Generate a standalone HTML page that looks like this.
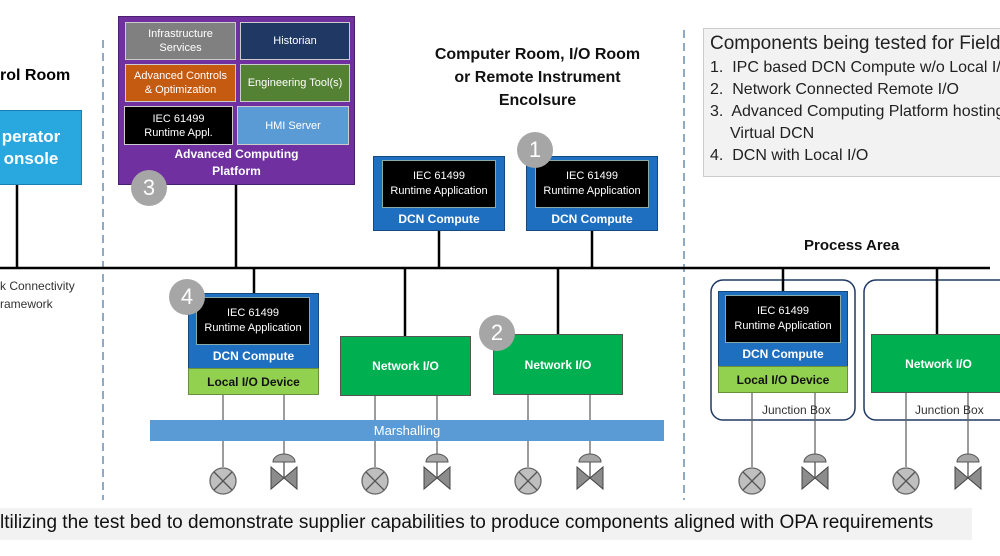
<!DOCTYPE html>
<html><head><meta charset="utf-8"><style>
body{margin:0;width:1000px;height:556px;overflow:hidden;background:#fff;font-family:"Liberation Sans",sans-serif;position:relative}
.a{position:absolute;box-sizing:border-box}
.c{display:flex;align-items:center;justify-content:center;text-align:center}
.b{font-weight:bold}
.cell{color:#fff;font-size:11px;line-height:14px;border:1px solid #ccc}
.num{position:absolute;width:36px;height:36px;border-radius:50%;background:#a6a6a6;color:#fff;font-size:22px;display:flex;align-items:center;justify-content:center}
.blk{background:#000;color:#fff;font-size:11px;line-height:15px;border:1px solid #8aa}
.dcnt{color:#fff;font-weight:bold;font-size:12px}
.gr{background:#00b050;color:#fff;font-weight:bold;font-size:12px;border:1px solid #555}
.lio{background:#92d050;color:#111;font-weight:bold;font-size:12px}
</style></head><body>
<svg class="a" style="left:0;top:0" width="1000" height="556">
<line x1="103" y1="40" x2="103" y2="500" stroke="#6a8fb0" stroke-width="1.5" stroke-dasharray="8,5"/>
<line x1="684" y1="30" x2="684" y2="500" stroke="#6a8fb0" stroke-width="1.5" stroke-dasharray="8,5"/>
<rect x="711" y="280" width="144" height="140" rx="12" fill="none" stroke="#1f3864" stroke-width="1.5"/>
<rect x="864" y="280" width="150" height="140" rx="12" fill="none" stroke="#1f3864" stroke-width="1.5"/>
<g stroke="#000" stroke-width="2.5">
<line x1="0" y1="268" x2="990" y2="268"/>
<line x1="17" y1="185" x2="17" y2="268"/>
<line x1="236" y1="185" x2="236" y2="268"/>
<line x1="439" y1="231" x2="439" y2="268"/>
<line x1="592" y1="231" x2="592" y2="268"/>
<line x1="254" y1="268" x2="254" y2="293"/>
<line x1="405" y1="268" x2="405" y2="336"/>
<line x1="558" y1="268" x2="558" y2="334"/>
<line x1="783" y1="268" x2="783" y2="291"/>
<line x1="937" y1="268" x2="937" y2="334"/>
</g>
<g stroke="#666" stroke-width="1.3">
<line x1="223" y1="395" x2="223" y2="467"/><line x1="284" y1="395" x2="284" y2="462"/>
<line x1="375" y1="395" x2="375" y2="467"/><line x1="437" y1="395" x2="437" y2="462"/>
<line x1="528" y1="395" x2="528" y2="467"/><line x1="590" y1="395" x2="590" y2="462"/>
<line x1="752" y1="393" x2="752" y2="467"/><line x1="815" y1="393" x2="815" y2="462"/>
<line x1="906" y1="393" x2="906" y2="467"/><line x1="968" y1="393" x2="968" y2="462"/>
</g>
<defs>
<g id="ci"><circle r="13" fill="#bfbfbf" stroke="#666" stroke-width="1.3"/><line x1="-9" y1="-9" x2="9" y2="9" stroke="#555" stroke-width="1.3"/><line x1="9" y1="-9" x2="-9" y2="9" stroke="#555" stroke-width="1.3"/></g>
<g id="va"><path d="M-11,7 A11,8 0 0 1 11,7 Z" fill="#a6a6a6" stroke="#555"/><line x1="0" y1="7" x2="0" y2="22" stroke="#555" stroke-width="1.3"/><path d="M-13,12 L13,34 L13,12 L-13,34 Z" fill="#8c8c8c" stroke="#444"/></g>
</defs>
<use href="#ci" x="223" y="481"/><use href="#va" x="284" y="455"/>
<use href="#ci" x="375" y="481"/><use href="#va" x="437" y="455"/>
<use href="#ci" x="528" y="481"/><use href="#va" x="590" y="455"/>
<use href="#ci" x="752" y="481"/><use href="#va" x="815" y="455"/>
<use href="#ci" x="906" y="481"/><use href="#va" x="968" y="455"/>
</svg>

<div class="a b" style="left:0;top:67px;font-size:16px">rol Room</div>
<div class="a c b" style="left:-20px;top:110px;width:102px;height:75px;background:#29a8e0;color:#fff;font-size:17px;line-height:22px;border:1px solid #1a7fb0">perator<br>onsole</div>

<div class="a" style="left:118px;top:16px;width:237px;height:169px;background:#7030a0;border:1px solid #4b1f70"></div>
<div class="a c cell" style="left:125px;top:22px;width:111px;height:38px;background:#808080">Infrastructure<br>Services</div>
<div class="a c cell" style="left:240px;top:22px;width:110px;height:38px;background:#1f3864">Historian</div>
<div class="a c cell" style="left:125px;top:64px;width:111px;height:38px;background:#c55a11">Advanced Controls<br>&amp; Optimization</div>
<div class="a c cell" style="left:240px;top:64px;width:110px;height:38px;background:#548235">Engineering Tool(s)</div>
<div class="a c cell" style="left:124px;top:106px;width:109px;height:39px;background:#000">IEC 61499<br>Runtime Appl.</div>
<div class="a c cell" style="left:237px;top:106px;width:112px;height:39px;background:#5b9bd5">HMI Server</div>
<div class="a c b" style="left:118px;top:146px;width:237px;height:34px;color:#fff;font-size:12px;line-height:17px">Advanced Computing<br>Platform</div>
<div class="num" style="left:131px;top:170px">3</div>

<div class="a c b" style="left:400px;top:43px;width:275px;font-size:16px;line-height:23px;color:#111">Computer Room, I/O Room<br>or Remote Instrument<br>Encolsure</div>

<div class="a" style="left:373px;top:156px;width:132px;height:75px;background:#1f6fc0;border:1px solid #144a80"></div>
<div class="a c blk" style="left:382px;top:160px;width:114px;height:48px">IEC 61499<br>Runtime Application</div>
<div class="a c dcnt" style="left:373px;top:210px;width:132px;height:18px">DCN Compute</div>
<div class="a" style="left:526px;top:156px;width:132px;height:75px;background:#1f6fc0;border:1px solid #144a80"></div>
<div class="a c blk" style="left:535px;top:160px;width:114px;height:48px">IEC 61499<br>Runtime Application</div>
<div class="a c dcnt" style="left:526px;top:210px;width:132px;height:18px">DCN Compute</div>
<div class="num" style="left:517px;top:132px">1</div>

<div class="a b" style="left:804px;top:237px;font-size:15px;color:#111">Process Area</div>

<div class="a" style="left:703px;top:28px;width:310px;height:149px;background:#f2f2f2;border:1px solid #ccc;color:#222;font-size:16px;line-height:22px;padding:1px 0 0 6px;white-space:nowrap">
<div style="font-size:19px;line-height:27px">Components being tested for Field</div>
<div>1.&nbsp; IPC based DCN Compute w/o Local I/O</div>
<div>2.&nbsp; Network Connected Remote I/O</div>
<div>3.&nbsp; Advanced Computing Platform hosting</div>
<div style="padding-left:20px">Virtual DCN</div>
<div>4.&nbsp; DCN with Local I/O</div>
</div>

<div class="a" style="left:0;top:277px;font-size:12px;line-height:18px;color:#333">k Connectivity<br>ramework</div>

<div class="a" style="left:188px;top:293px;width:131px;height:76px;background:#1f6fc0;border:1px solid #144a80"></div>
<div class="a c blk" style="left:196px;top:297px;width:114px;height:48px">IEC 61499<br>Runtime Application</div>
<div class="a c dcnt" style="left:188px;top:346px;width:131px;height:20px">DCN Compute</div>
<div class="a c lio" style="left:188px;top:368px;width:131px;height:27px;border:1px solid #6a8f3a">Local I/O Device</div>
<div class="num" style="left:169px;top:279px">4</div>

<div class="a c gr" style="left:340px;top:336px;width:131px;height:60px">Network I/O</div>
<div class="a c gr" style="left:493px;top:334px;width:130px;height:61px">Network I/O</div>
<div class="num" style="left:479px;top:315px">2</div>

<div class="a c" style="left:150px;top:420px;width:514px;height:21px;background:#5b9bd5;color:#fff;font-size:13px">Marshalling</div>

<div class="a" style="left:718px;top:291px;width:130px;height:76px;background:#1f6fc0;border:1px solid #144a80"></div>
<div class="a c blk" style="left:725px;top:295px;width:116px;height:48px">IEC 61499<br>Runtime Application</div>
<div class="a c dcnt" style="left:718px;top:344px;width:130px;height:20px">DCN Compute</div>
<div class="a c lio" style="left:718px;top:366px;width:130px;height:27px;border:1px solid #6a8f3a">Local I/O Device</div>
<div class="a c gr" style="left:871px;top:334px;width:135px;height:59px">Network I/O</div>
<div class="a" style="left:762px;top:403px;font-size:12px;color:#333">Junction Box</div>
<div class="a" style="left:915px;top:403px;font-size:12px;color:#333">Junction Box</div>

<div class="a" style="left:0;top:508px;width:972px;height:32px;background:#f2f2f2;font-size:19px;line-height:30px;color:#111;white-space:nowrap">ltilizing the test bed to demonstrate supplier capabilities to produce components aligned with OPA requirements</div>
</body></html>
